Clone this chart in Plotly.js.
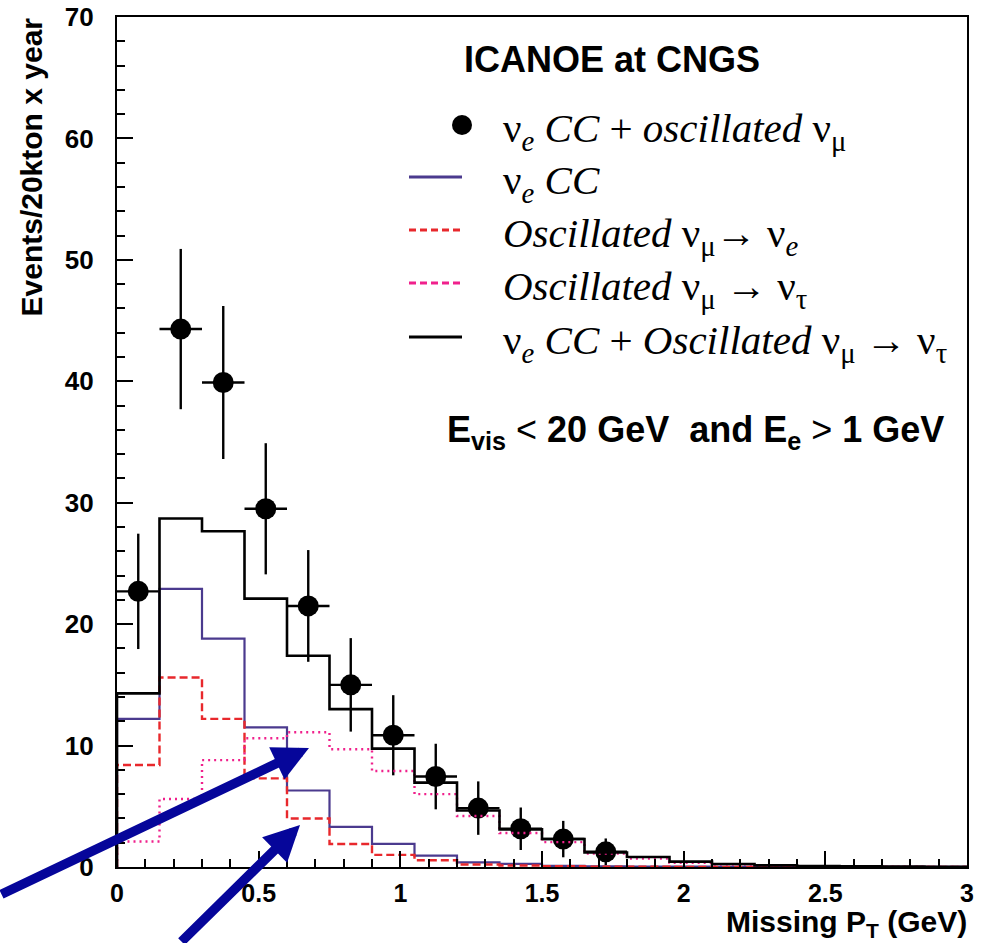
<!DOCTYPE html>
<html>
<head>
<meta charset="utf-8">
<script src="https://cdn.plot.ly/plotly-3.0.1.min.js"></script>
<style>
  html, body { margin: 0; padding: 0; background: #fff; }
  #chart { width: 987px; height: 943px; }
</style>
</head>
<body>
<div id="chart"></div>
<script>
// Missing transverse momentum binning (GeV): 20 bins of 0.15 GeV from 0 to 3
const binLow = [0.00, 0.15, 0.30, 0.45, 0.60, 0.75, 0.90, 1.05, 1.20, 1.35,
                1.50, 1.65, 1.80, 1.95, 2.10, 2.25, 2.40, 2.55, 2.70, 2.85];
const binWidth = 0.15;

// Expected events / 20 kton / year in each bin
const nueCC          = [12.2, 22.9, 18.8, 11.5, 6.3, 3.3, 1.9, 0.93, 0.38, 0.25,
                        0.10, 0.05, 0.04, 0.03, 0.02, 0.02, 0.01, 0.01, 0.01, 0.01];
const oscNumuToNue   = [8.4, 15.6, 12.2, 7.3, 4.0, 1.9, 1.0, 0.55, 0.20, 0.12,
                        0.06, 0.03, 0.02, 0.01, 0.01, 0.01, 0.0, 0.0, 0.0, 0.0];
const oscNumuToNutau = [2.1, 5.6, 8.8, 10.6, 11.1, 9.7, 7.9, 6.0, 4.2, 2.8,
                        2.05, 1.1, 0.7, 0.35, 0.2, 0.08, 0.05, 0.03, 0.02, 0.01];
const nueCCPlusNutau = [14.3, 28.7, 27.65, 22.1, 17.4, 13.0, 9.75, 6.95, 4.65, 3.1,
                        2.3, 1.2, 0.82, 0.44, 0.25, 0.13, 0.08, 0.05, 0.03, 0.02];

// nu_e CC + oscillated nu_mu sample, with its statistical errors
const dataPt  = [0.075, 0.225, 0.375, 0.525, 0.675, 0.825, 0.975, 1.125, 1.275, 1.425, 1.575, 1.725];
const dataN   = [22.7, 44.3, 39.9, 29.5, 21.5, 15.0, 10.85, 7.45, 4.85, 3.15, 2.3, 1.25];
const dataErr = [4.75, 6.6, 6.3, 5.4, 4.6, 3.85, 3.3, 2.7, 2.2, 1.75, 1.5, 1.1];

// Axis tick labels
const xTicks = [0, 0.5, 1, 1.5, 2, 2.5, 3];
const xTickText = ['0', '0.5', '1', '1.5', '2', '2.5', '3'];
const yTicks = [0, 10, 20, 30, 40, 50, 60, 70];

// Colours
const C_PURPLE = '#4b3a8e';
const C_RED = '#e8282c';
const C_PINK = '#f0208c';
const C_ARROW = '#06069a';

// Outline of a histogram: rises from zero at the first edge, drops back at the last
function stepOutline(values) {
  const x = [binLow[0]], y = [0];
  values.forEach((v, i) => { x.push(binLow[i]); y.push(v); });
  const hi = binLow[binLow.length - 1] + binWidth;
  x.push(hi); y.push(values[values.length - 1]);
  x.push(hi); y.push(0);
  return { x, y };
}

function histTrace(values, name, color, width, dash) {
  const s = stepOutline(values);
  return {
    type: 'scatter', mode: 'lines', name: name,
    x: s.x, y: s.y,
    line: { shape: 'hv', color: color, width: width, dash: dash },
    hoverinfo: 'skip', showlegend: false
  };
}

const traces = [
  {
    type: 'scatter', mode: 'markers', name: 'νe CC + oscillated νμ',
    x: dataPt, y: dataN,
    marker: { color: 'black', size: 21 },
    error_y: { type: 'data', array: dataErr, visible: true, color: 'black', thickness: 2.4, width: 0 },
    error_x: { type: 'data', array: dataPt.map(() => binWidth / 2), visible: true, color: 'black', thickness: 2.4, width: 0 },
    showlegend: false
  },
  histTrace(nueCC, 'νe CC', C_PURPLE, 2.2, 'solid'),
  histTrace(oscNumuToNue, 'Oscillated νμ→νe', C_RED, 2.4, '8px,4px'),
  histTrace(oscNumuToNutau, 'Oscillated νμ→ντ', C_PINK, 2.4, '2px,4px'),
  histTrace(nueCCPlusNutau, 'νe CC + Oscillated νμ→ντ', 'black', 2.6, 'solid')
];

// Plot frame in page pixels
const M = { l: 117, r: 20, t: 17, b: 76 };
const PW = 987 - M.l - M.r, PH = 943 - M.t - M.b;
const px = v => (v - M.l) / PW;        // page x -> paper x
const py = v => (943 - M.b - v) / PH;  // page y -> paper y

const sans = 'Liberation Sans, Arial, Helvetica, sans-serif';
const serif = 'Liberation Serif, Times New Roman, serif';

// Legend block drawn in the upper right of the frame
const legendRows = [
  { y: 125, text: 'ν<sub><i>e</i></sub> <i>CC</i> + <i>oscillated</i> ν<sub>μ</sub>' },
  { y: 177, text: 'ν<sub><i>e</i></sub> <i>CC</i>' },
  { y: 230, text: '<i>Oscillated</i> ν<sub>μ</sub>→ ν<sub><i>e</i></sub>' },
  { y: 283, text: '<i>Oscillated</i> ν<sub>μ</sub> → ν<sub>τ</sub>' },
  { y: 337, text: 'ν<sub><i>e</i></sub> <i>CC</i> + <i>Oscillated</i> ν<sub>μ</sub> → ν<sub>τ</sub>' }
];

const annotations = legendRows.map(r => ({
  xref: 'paper', yref: 'paper', x: px(501), y: py(r.y + 6),
  xanchor: 'left', yanchor: 'middle', showarrow: false,
  text: r.text, font: { family: serif, size: 41, color: 'black' }
}));

annotations.push(
  {
    xref: 'paper', yref: 'paper', x: px(612), y: py(60),
    xanchor: 'center', yanchor: 'middle', showarrow: false,
    text: 'ICANOE at CNGS', font: { family: sans, size: 36, weight: 'bold', color: 'black' }
  },
  {
    xref: 'paper', yref: 'paper', x: px(695), y: py(432),
    xanchor: 'center', yanchor: 'middle', showarrow: false,
    text: 'E<sub>vis</sub> <span style="font-weight:normal">&lt;</span> 20 GeV&nbsp; and E<sub>e</sub> <span style="font-weight:normal">&gt;</span> 1 GeV',
    font: { family: sans, size: 36, weight: 'bold', color: 'black' }
  },
  {
    xref: 'paper', yref: 'paper', x: px(31), y: py(16),
    xanchor: 'center', yanchor: 'top', textangle: -90, showarrow: false,
    text: 'Events/20kton x year', font: { family: sans, size: 30, weight: 'bold', color: 'black' }
  },
  {
    xref: 'paper', yref: 'paper', x: 1.002, y: py(923),
    xanchor: 'right', yanchor: 'middle', showarrow: false,
    text: 'Missing P<sub>T</sub> (GeV)', font: { family: sans, size: 30, weight: 'bold', color: 'black' }
  },
  // Two pointers from outside the frame towards the tau-appearance bump and the nu_e tail
  {
    xref: 'paper', yref: 'paper', x: px(309), y: py(748), ax: -4 - 309, ay: 895 - 748,
    text: '', showarrow: true, arrowhead: 2, arrowsize: 0.75, arrowwidth: 9.5, arrowcolor: C_ARROW, standoff: 0
  },
  {
    xref: 'paper', yref: 'paper', x: px(300), y: py(825), ax: 180 - 300, ay: 952 - 825,
    text: '', showarrow: true, arrowhead: 2, arrowsize: 0.75, arrowwidth: 9.5, arrowcolor: C_ARROW, standoff: 0
  }
);

const shapes = [
  { type: 'circle', xref: 'paper', yref: 'paper', x0: px(452), x1: px(472), y0: py(135), y1: py(115),
    fillcolor: 'black', line: { width: 0 } },
  { type: 'line', xref: 'paper', yref: 'paper', x0: px(409), x1: px(462), y0: py(177), y1: py(177),
    line: { color: C_PURPLE, width: 3 } },
  { type: 'line', xref: 'paper', yref: 'paper', x0: px(409), x1: px(462), y0: py(230), y1: py(230),
    line: { color: C_RED, width: 3, dash: '7px,4px' } },
  { type: 'line', xref: 'paper', yref: 'paper', x0: px(409), x1: px(462), y0: py(283), y1: py(283),
    line: { color: C_PINK, width: 3, dash: '7px,4px' } },
  { type: 'line', xref: 'paper', yref: 'paper', x0: px(409), x1: px(462), y0: py(337), y1: py(337),
    line: { color: 'black', width: 3 } }
];

const axisCommon = {
  showgrid: false, zeroline: false,
  showline: true, linecolor: 'black', linewidth: 2.2, mirror: true,
  ticks: 'inside', ticklen: 16, tickwidth: 2, tickcolor: 'black',
  fixedrange: true
};

const layout = {
  width: 987, height: 943,
  margin: M,
  paper_bgcolor: 'white', plot_bgcolor: 'white',
  showlegend: false,
  xaxis: Object.assign({}, axisCommon, {
    range: [0, 3], tickvals: xTicks, ticktext: xTickText,
    tickfont: { family: sans, size: 25, weight: 'bold', color: 'black' },
    ticklabelstandoff: 3,
    minor: { ticks: 'inside', ticklen: 8, tickwidth: 2, tickcolor: 'black', dtick: 0.1, showgrid: false }
  }),
  yaxis: Object.assign({}, axisCommon, {
    range: [0, 70], tickvals: yTicks,
    tickfont: { family: sans, size: 26, weight: 'bold', color: 'black' },
    ticklabelstandoff: 16,
    minor: { ticks: 'inside', ticklen: 8, tickwidth: 2, tickcolor: 'black', dtick: 2, showgrid: false }
  }),
  annotations: annotations,
  shapes: shapes
};

Plotly.newPlot('chart', traces, layout, { displayModeBar: false, staticPlot: true });
</script>
</body>
</html>
